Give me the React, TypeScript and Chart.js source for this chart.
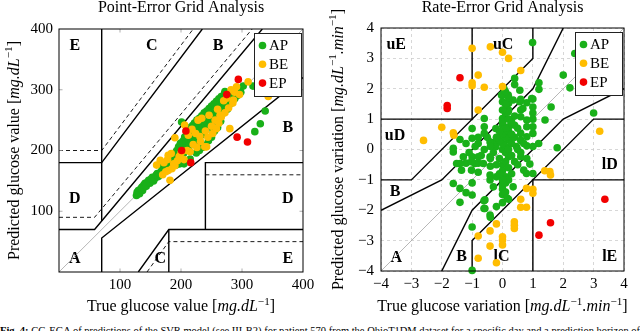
import { useEffect, useRef } from 'react';
import { Chart, registerables } from 'chart.js';

Chart.register(...registerables);

type P = [number, number];
type Seg = { t: string; it?: boolean; sup?: boolean };

const FONT = '"Liberation Serif", "DejaVu Serif", serif';

// ---------- categories ----------
const categories = ['AP', 'BE', 'EP'];
const categoryColors = ['#19b019', '#ffbd00', '#f20000'];

// ---------- Point-Error Grid data (true, predicted) ----------
const pegaAP: P[] = [
  [127, 126], [128, 131], [130, 134], [132, 129], [134, 137], [136, 140], [137, 134], [139, 143], [141, 146], [143, 141],
  [145, 148], [147, 151], [149, 146], [151, 153], [153, 156], [155, 150], [157, 154], [159, 159], [161, 162], [163, 157],
  [165, 161], [167, 165], [168, 161], [170, 168], [172, 165], [174, 171], [176, 174], [178, 168], [180, 177], [182, 181],
  [175, 179], [169, 173],
  [184, 186], [186, 192], [188, 184], [190, 196], [191, 188], [193, 200], [195, 193], [196, 206], [198, 196], [199, 212],
  [200, 188], [201, 202], [201, 247], [203, 215], [204, 195], [205, 207], [206, 222], [207, 200], [208, 212], [210, 225],
  [211, 205], [212, 218], [213, 232], [214, 208], [215, 222], [216, 238], [217, 213], [218, 228], [219, 241], [220, 215],
  [221, 232], [222, 245], [223, 220], [224, 236], [225, 212], [226, 250], [227, 228], [228, 240], [229, 218], [230, 253],
  [231, 232], [232, 245], [233, 225], [234, 257], [235, 238], [236, 248], [237, 230], [238, 262], [239, 242], [240, 252],
  [205, 178], [215, 186], [225, 196], [235, 205], [245, 216], [230, 200], [240, 209], [250, 222], [255, 232], [260, 238],
  [198, 178], [192, 176], [186, 175],
  [241, 235], [242, 265], [243, 247], [244, 256], [245, 240], [246, 269], [247, 250], [248, 260], [249, 245], [250, 273],
  [251, 255], [252, 264], [253, 231], [254, 277], [255, 258], [256, 268], [257, 250], [258, 281], [259, 262], [260, 272],
  [261, 256], [262, 285], [263, 266], [264, 276], [265, 248], [266, 289], [267, 270], [268, 280], [270, 262], [271, 293],
  [272, 297], [273, 274], [275, 284], [276, 268], [278, 288], [280, 276], [282, 292], [284, 282], [286, 296], [288, 285],
  [290, 298], [292, 290], [295, 300], [298, 296], [302, 306], [318, 306], [338, 265], [330, 244], [321, 231],
];
const pegaBE: P[] = [
  [182, 151], [179, 167], [166, 184], [170, 160], [175, 165], [160, 176], [172, 180], [185, 170], [188, 178], [178, 185],
  [190, 175], [194, 183], [197, 190], [184, 195], [179, 192], [190, 221], [200, 196], [206, 242], [205, 185], [210, 200],
  [212, 225], [215, 198], [218, 235], [220, 210], [224, 228], [226, 205], [228, 250], [231, 223], [232, 215], [234, 253],
  [239, 206], [242, 206], [240, 232], [244, 222], [246, 258], [250, 240], [252, 228], [256, 250], [258, 236], [260, 268],
  [262, 245], [264, 258], [266, 255], [270, 282], [272, 262], [275, 286], [278, 270], [280, 236], [282, 300], [285, 278],
  [286, 283], [288, 296], [291, 305], [296, 292], [310, 313], [343, 289],
];
const pegaEP: P[] = [[201, 200], [208, 232], [216, 180], [292, 222], [309, 214], [294, 317], [275, 292]];

// ---------- Rate-Error Grid data (true rate, predicted rate) ----------
const regaAP: P[] = [
  [0.99, 3.52], [2.38, 3.16], [2.0, 2.45], [2.22, 2.03], [3.0, 1.2], [1.6, 1.4], [1.4, 0.97], [1.8, 0.06], [1.2, 2.2], [1.2, 1.98],
  [1.0, 1.66], [1.0, 1.4], [1.0, 1.2], [1.0, 1.0], [1.0, 0.75], [1.0, 0.53], [0.8, 1.54], [0.8, 0.75], [0.8, 0.42], [0.8, 0.12],
  [0.8, 0.97], [0.6, 1.65], [0.6, 1.3], [0.6, 1.08], [0.6, 0.53], [0.57, 1.95], [0.96, 1.68], [0.4, 2.34], [0.4, 2.14], [0.35, 1.63],
  [0.57, 1.57], [0.67, 1.35], [0.2, 1.52], [0.2, 1.3], [0.2, 0.75], [0.2, 0.31], [0.19, 1.79], [0.13, 1.4], [0.19, 1.24],
  [0, 1.79], [0, 1.57], [0, 1.02], [0, 0.8], [-0.03, 1.79],
  [-0.22, 0.69], [-0.22, 0.25], [-0.22, 0.09], [-0.6, 1.02], [-0.6, 0.75], [-0.6, 0.53], [-1, 0.69], [-1, 0.37], [-1.4, 0.33], [-1.62, 0.04],
  [-1.2, 0.2], [-0.8, 0.2], [-0.41, 0.25], [0.46, 0.1], [1.0, 0.1], [1.19, 0.2],
  [-1, -0.24], [-0.8, -0.24], [-0.41, -0.24], [0.2, -0.24], [0.6, -0.24],
  [-1.2, -0.45], [-0.8, -0.45], [-0.4, -0.55], [0, -0.5],
  [-1.4, -0.46], [-0.91, -0.46], [-0.63, -0.46], [-0.8, -0.75], [-0.41, -0.84], [-0.2, -0.9], [-0.41, -1.0], [-0.3, -1.23],
  [0, -1.18], [0.35, -1.23], [-1.62, -1.12], [-1.4, -1.28], [-1.2, -1.42], [-1.0, -1.5], [-1.4, -1.74], [-1.0, -1.1],
  [-0.61, -1.69], [-0.61, -1.94], [-0.41, -2.16], [-0.4, -2.23], [-0.2, -1.88], [0, -1.75], [0.2, -1.64], [0, -1.48], [0, -1.3],
  [0.7, -0.68], [0.9, -0.48], [1.0, -0.79], [0.79, -0.79], [-1.0, -2.55], [-1.0, -3.98],
  [-1.51, -0.46], [-1.35, -0.68], [-1.02, -0.68], [-1.29, -0.24], [-1.02, -0.4], [-1.62, -0.08], [-0.58, -1.66], [-0.58, -1.94],
  [0, 0], [0.1, 0.1], [0.1, -0.1], [0, 0.2], [0.2, 0], [-0.1, 0.3], [0.1, 0.4], [0, 0.5], [0.2, 0.6], [-0.1, -0.3],
  [0.1, -0.4], [0, -0.7], [0.2, -0.6], [0.1, -0.9], [0.3, 0.2], [0.3, -0.2], [0.1, 0.7], [0, 0.9], [0.2, 1.0], [0.1, 1.2],
  [-0.1, 0.6], [-0.2, 0.4], [0.4, 0.4], [0.4, -0.4], [0.4, 0.8], [-0.3, -0.1], [0.3, -0.8], [0.1, -1.1], [0.2, -1.0], [0, -1.0],
  [0.5, 0], [0.6, 0.3], [-0.4, 0.1], [-0.6, 0], [-0.5, 0.4], [-0.8, 0.4], [0.3, 0.9], [0.5, -0.5], [0.6, -0.1], [0.1, 1.5],
  [0.2, 1.7], [0, 1.3], [0.1, -1.4], [0.15, -1.6], [-0.1, -0.8], [-0.2, -0.5], [0.4, 1.1], [0.5, 0.7], [-0.4, -0.3], [-0.7, -0.2],
  [-0.9, 0.1], [-1.1, -0.1], [0.7, 0.2], [0.8, -0.3], [0.3, 0.5], [0.05, 2.0], [0.1, 1.9],
];
const regaBE: P[] = [
  [-1, 3.33], [-0.4, 3.38], [0, 3.2], [0.2, 3.0], [0.6, 2.6], [-0.8, 2.45], [-1, 2.2], [-1, 2.1], [-0.6, 2.05], [0, 2.07],
  [-0.8, 1.3], [-2.0, 0.73], [-1.62, 0.55], [-1.6, 0.47], [-2.6, 0.3], [3.2, 0.6],
  [1.56, -0.73], [1.58, -0.84], [1.39, -0.7], [0.79, -1.28], [1.0, -1.31], [1.0, -1.44], [0.6, -1.64], [0.6, -1.9], [0.79, -1.9],
  [0.39, -2.38], [0.39, -2.49], [0.39, -2.6], [-0.2, -2.45], [-0.41, -2.68], [0, -2.87], [0, -2.98], [0, -3.14], [-0.8, -2.85],
  [-0.41, -3.18], [-0.8, -3.58], [-0.2, -3.73],
];
const regaEP: P[] = [[-1.4, 2.36], [-1.82, 1.45], [-1.82, 1.35], [3.37, -1.64], [1.58, -2.41], [1.2, -2.82]];

// ---------- tick values ----------
const pegaTickStep = 100;
const pegaRange: P = [0, 400];
const regaTickStep = 1;
const regaRange: P = [-4, 4];

// ---------- zone boundaries (data coordinates) ----------
const pegaSolid: P[][] = [
  [[0, 180], [70, 180], [235, 400]],
  [[70, 84], [70, 400]],
  [[0, 70], [58.33, 70], [333.3, 400]],
  [[70, 0], [70, 56], [400, 320]],
  [[130, 0], [180, 70], [400, 70]],
  [[180, 0], [180, 70]],
  [[240, 70], [240, 180], [400, 180]],
];
const pegaDashed: P[][] = [
  [[0, 200], [70, 200], [220, 400]],
  [[0, 90], [58.33, 90], [316.7, 400]],
  [[144.3, 0], [180, 50], [400, 50]],
  [[240, 160], [400, 160]],
];
const pegaIdentity: P[] = [[0, 0], [400, 400]];

const regaSolid: P[][] = [
  [[-4, 1], [-1, 1], [-1, 4]],
  [[-4, -1], [-3, -1], [1, 3], [1, 4]],
  [[-4, -2], [-2, -1], [1, 2], [2, 4]],
  [[-2, -4], [-1, -2], [2, 1], [4, 2]],
  [[-1, -4], [-1, -3], [3, 1], [4, 1]],
  [[1, -4], [1, -1], [4, -1]],
];
const regaDashed: P[][] = [];
const regaIdentity: P[] = [[-4, -4], [4, 4]];

// ---------- zone labels ----------
const pegaZones: [string, number, number][] = [
  ['E', 26, 373], ['C', 152, 373], ['B', 261, 373], ['B', 375, 238], ['D', 26, 121],
  ['D', 375, 121], ['A', 26, 21], ['C', 166, 21], ['E', 375, 21],
];
const regaZones: [string, number, number][] = [
  ['uE', -3.5, 3.43], ['uC', 0.02, 3.43], ['uD', -3.54, 0.44], ['lD', 3.53, -0.51], ['B', -3.54, -1.41],
  ['A', -3.5, -3.58], ['B', -1.35, -3.55], ['lC', -0.03, -3.55], ['lE', 3.53, -3.55],
];

// ---------- text ----------
const pegaTitle = 'Point-Error Grid Analysis';
const regaTitle = 'Rate-Error Grid Analysis';
const pegaXTitle: Seg[] = [{ t: 'True glucose value [' }, { t: 'mg.dL', it: true }, { t: '−1', sup: true }, { t: ']' }];
const pegaYTitle: Seg[] = [{ t: 'Predicted glucose value [' }, { t: 'mg.dL', it: true }, { t: '−1', sup: true }, { t: ']' }];
const regaXTitle: Seg[] = [
  { t: 'True glucose variation [' }, { t: 'mg.dL', it: true }, { t: '−1', sup: true }, { t: '.', it: true },
  { t: 'min', it: true }, { t: '−1', sup: true }, { t: ']' },
];
const regaYTitle: Seg[] = [
  { t: 'Predicted glucose variation [' }, { t: 'mg.dL', it: true }, { t: '−1', sup: true }, { t: '.', it: true },
  { t: 'min', it: true }, { t: '−1', sup: true }, { t: ']' },
];
const captionBold = 'Fig. 4:';
const captionText =
  ' CG-EGA of predictions of the SVR model (see III-B2) for patient 570 from the OhioT1DM dataset for a specific day and a prediction horizon of 30 minutes.';

interface Panel {
  title: string;
  xTitle: Seg[];
  yTitle: Seg[];
  range: P;
  step: number;
  series: P[][];
  solid: P[][];
  dashed: P[][];
  identity: P[];
  zones: [string, number, number][];
  padTop: number;
  padRight: number;
  yWidth: number;
  xHeight: number;
  grid: boolean;
  innerTicks: boolean;
  hideZero: boolean;
  yTitleX: number;
  yPad: number;
}

const panels: Panel[] = [
  {
    title: pegaTitle, xTitle: pegaXTitle, yTitle: pegaYTitle, range: pegaRange, step: pegaTickStep,
    series: [pegaAP, pegaBE, pegaEP], solid: pegaSolid, dashed: pegaDashed, identity: pegaIdentity, zones: pegaZones,
    padTop: 29, padRight: 17, yWidth: 59, xHeight: 48, grid: false, innerTicks: true, hideZero: true, yTitleX: 18.5, yPad: 6,
  },
  {
    title: regaTitle, xTitle: regaXTitle, yTitle: regaYTitle, range: regaRange, step: regaTickStep,
    series: [regaAP, regaBE, regaEP], solid: regaSolid, dashed: regaDashed, identity: regaIdentity, zones: regaZones,
    padTop: 28, padRight: 16, yWidth: 61, xHeight: 49, grid: true, innerTicks: false, hideZero: false, yTitleX: 22.5, yPad: 7,
  },
];

const W = 320;
const H = 320;

function drawRich(ctx: CanvasRenderingContext2D, segs: Seg[], cx: number, baseline: number, size: number) {
  const fontFor = (s: Seg) => `${s.it ? 'italic ' : ''}${s.sup ? size * 0.7 : size}px ${FONT}`;
  let w = 0;
  segs.forEach((s) => {
    ctx.font = fontFor(s);
    w += ctx.measureText(s.t).width;
  });
  let x = cx - w / 2;
  ctx.textAlign = 'left';
  ctx.textBaseline = 'alphabetic';
  segs.forEach((s) => {
    ctx.font = fontFor(s);
    ctx.fillText(s.t, x, baseline + (s.sup ? -size * 0.38 : 0));
    x += ctx.measureText(s.t).width;
  });
}

function makeDecor(p: Panel) {
  return {
    id: 'decor',
    beforeDatasetsDraw(chart: any) {
      const { ctx } = chart;
      const xs = chart.scales.x;
      const ys = chart.scales.y;
      ctx.save();
      ctx.font = `bold 16px ${FONT}`;
      ctx.fillStyle = '#000';
      ctx.textAlign = 'center';
      ctx.textBaseline = 'middle';
      p.zones.forEach(([t, x, y]) => ctx.fillText(t, xs.getPixelForValue(x), ys.getPixelForValue(y)));
      ctx.restore();
    },
    afterDraw(chart: any) {
      const { ctx, chartArea: a } = chart;
      const xs = chart.scales.x;
      const ys = chart.scales.y;
      ctx.save();
      if (p.innerTicks) {
        ctx.strokeStyle = '#999';
        ctx.lineWidth = 0.8;
        ctx.beginPath();
        for (let v = p.range[0] + p.step; v < p.range[1]; v += p.step) {
          const px = xs.getPixelForValue(v);
          const py = ys.getPixelForValue(v);
          ctx.moveTo(px, a.bottom); ctx.lineTo(px, a.bottom - 3.5);
          ctx.moveTo(px, a.top); ctx.lineTo(px, a.top + 3.5);
          ctx.moveTo(a.left, py); ctx.lineTo(a.left + 3.5, py);
          ctx.moveTo(a.right, py); ctx.lineTo(a.right - 3.5, py);
        }
        ctx.stroke();
      }
      // frame
      ctx.strokeStyle = '#000';
      ctx.lineWidth = 1;
      ctx.strokeRect(a.left, a.top, a.right - a.left, a.bottom - a.top);

      // legend
      const bw = 47;
      const bh = 63;
      const bx = a.right - bw - 1.5;
      const by = a.top + 4.5;
      ctx.fillStyle = '#fff';
      ctx.fillRect(bx, by, bw, bh);
      ctx.strokeStyle = '#222';
      ctx.lineWidth = 1;
      ctx.strokeRect(bx, by, bw, bh);
      ctx.font = `15px ${FONT}`;
      ctx.textAlign = 'left';
      ctx.textBaseline = 'middle';
      categories.forEach((c, i) => {
        const cy = by + 12 + i * 18.8;
        ctx.fillStyle = categoryColors[i];
        ctx.beginPath();
        ctx.arc(bx + 8, cy, 3.8, 0, Math.PI * 2);
        ctx.fill();
        ctx.fillStyle = '#000';
        ctx.fillText(c, bx + 14.5, cy + 1);
      });

      // titles
      ctx.fillStyle = '#000';
      const cx = (a.left + a.right) / 2;
      ctx.font = `16px ${FONT}`;
      ctx.textAlign = 'center';
      ctx.textBaseline = 'alphabetic';
      ctx.fillText(p.title, cx, 12);
      drawRich(ctx, p.xTitle, cx, 311, 16);
      ctx.translate(p.yTitleX, (a.top + a.bottom) / 2);
      ctx.rotate(-Math.PI / 2);
      drawRich(ctx, p.yTitle, 0, 0, 16);
      ctx.restore();
    },
  };
}

function fmt(v: number, hideZero: boolean) {
  if (v === 0 && hideZero) return '';
  return v < 0 ? '−' + Math.abs(v) : String(v);
}

function PanelChart({ p, left }: { p: Panel; left: number }) {
  const ref = useRef<HTMLCanvasElement | null>(null);
  useEffect(() => {
    if (!ref.current) return;
    const toXY = (pts: P[]) => pts.map(([x, y]) => ({ x, y }));
    const lineDs = (pts: P[], color: string, width: number, dash: number[], order: number) => ({
      data: toXY(pts),
      showLine: true,
      borderColor: color,
      borderWidth: width,
      borderDash: dash,
      pointRadius: 0,
      pointHoverRadius: 0,
      fill: false,
      tension: 0,
      order,
      clip: 0,
    });
    const datasets: any[] = [];
    p.series.forEach((pts, i) => {
      datasets.push({
        label: categories[i],
        data: toXY(pts),
        showLine: false,
        backgroundColor: categoryColors[i],
        borderWidth: 0,
        pointRadius: 3.8,
        pointHoverRadius: 3.8,
        order: 3 - i,
        clip: false,
      });
    });
    p.solid.forEach((l) => datasets.push(lineDs(l, '#000', 1.4, [], 10)));
    p.dashed.forEach((l) => datasets.push(lineDs(l, '#000', 0.9, [4, 3], 11)));
    datasets.push(lineDs(p.identity, '#a5a5a5', 0.8, [], 12));

    const tickFont = { family: FONT, size: 15 };
    const chart = new Chart(ref.current, {
      type: 'scatter',
      data: { datasets },
      options: {
        responsive: false,
        animation: false,
        events: [],
        layout: { autoPadding: false, padding: { top: p.padTop, right: p.padRight, left: 0, bottom: 0 } },
        plugins: { legend: { display: false }, tooltip: { enabled: false }, title: { display: false } },
        scales: {
          x: {
            type: 'linear',
            min: p.range[0],
            max: p.range[1],
            afterFit: (s: any) => { s.height = p.xHeight; },
            ticks: {
              stepSize: p.step, autoSkip: false, maxRotation: 0, font: tickFont, color: '#000', padding: 4,
              callback: (v: any) => fmt(Number(v), p.hideZero),
            },
            grid: { display: p.grid, drawTicks: false, color: '#cdcdcd', lineWidth: 0.8 },
            border: { display: false, dash: [3, 3] },
          },
          y: {
            type: 'linear',
            min: p.range[0],
            max: p.range[1],
            afterFit: (s: any) => { s.width = p.yWidth; },
            ticks: {
              stepSize: p.step, autoSkip: false, font: tickFont, color: '#000', padding: p.yPad,
              callback: (v: any) => fmt(Number(v), p.hideZero),
            },
            grid: { display: p.grid, drawTicks: false, color: '#cdcdcd', lineWidth: 0.8 },
            border: { display: false, dash: [3, 3] },
          },
        },
      } as any,
      plugins: [makeDecor(p)],
    });
    return () => chart.destroy();
  }, [p]);
  return (
    <canvas
      ref={ref}
      width={W}
      height={H}
      style={{ position: 'absolute', left, top: 0, width: W, height: H }}
    />
  );
}

export default function App() {
  return (
    <div
      style={{
        position: 'fixed', left: 0, top: 0, width: 640, height: 331, overflow: 'hidden', background: '#fff',
      }}
    >
      <PanelChart p={panels[0]} left={0} />
      <PanelChart p={panels[1]} left={320} />
      <div
        style={{
          position: 'absolute', left: 0, top: 325, width: 640, whiteSpace: 'nowrap', overflow: 'hidden',
          fontFamily: FONT, fontSize: 10.5, lineHeight: '12px', color: '#000',
        }}
      >
        <b>{captionBold}</b>
        {captionText}
      </div>
    </div>
  );
}
